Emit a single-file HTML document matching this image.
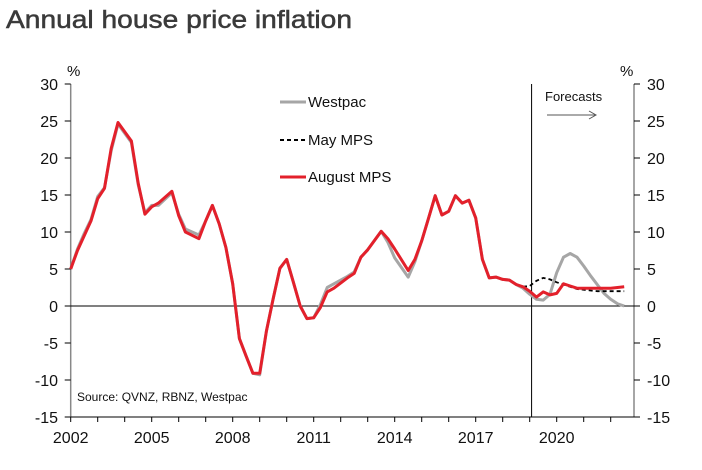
<!DOCTYPE html>
<html><head><meta charset="utf-8"><style>
body{margin:0;background:#fff;width:702px;height:465px;overflow:hidden;font-family:"Liberation Sans",Arial,sans-serif}
</style></head><body>
<svg width="702" height="465" xmlns="http://www.w3.org/2000/svg">
<text x="6" y="28" font-size="25" fill="#3a3a3a" stroke="#3a3a3a" stroke-width="0.5" textLength="346" lengthAdjust="spacingAndGlyphs">Annual house price inflation</text>
<g id="axes"></g>
<g id="series"></g>
<g font-size="15" fill="#111">
<line x1="280" y1="102" x2="306" y2="102" stroke="#a6a6a6" stroke-width="3"/>
<text x="308" y="107">Westpac</text>
<line x1="280" y1="140" x2="306" y2="140" stroke="#000" stroke-width="2" stroke-dasharray="4,3"/>
<text x="308" y="145">May MPS</text>
<line x1="280" y1="177" x2="306" y2="177" stroke="#e3202b" stroke-width="3"/>
<text x="308" y="182">August MPS</text>
</g>
<text x="545" y="101" font-size="13" fill="#111">Forecasts</text>
<line x1="547" y1="115" x2="596" y2="115" stroke="#555" stroke-width="1"/>
<polyline points="589,111 596,115 589,119" fill="none" stroke="#555" stroke-width="1"/>
<text x="77" y="401" font-size="12" fill="#111">Source: QVNZ, RBNZ, Westpac</text>
</svg>
<script>
const yTicks=[30,25,20,15,10,5,0,-5,-10,-15];
const xTickLabels=[2002,2005,2008,2011,2014,2017,2020];
const histDates=[2002,2002.25,2002.5,2002.75,2003,2003.25,2003.5,2003.75,2004.25,2004.5,2004.75,2005,2005.25,2005.75,2006,2006.25,2006.75,2007,2007.25,2007.5,2007.75,2008,2008.25,2008.5,2008.75,2009,2009.25,2009.5,2009.75,2010,2010.25,2010.5,2010.75,2011,2011.25,2011.5,2011.75,2012.25,2012.5,2012.75,2013,2013.5,2013.75,2014,2014.5,2014.75,2015,2015.25,2015.5,2015.75,2016,2016.25,2016.5,2016.75,2017,2017.25,2017.5,2017.75,2018,2018.25,2018.5,2018.75];
const histValues=[5.0,7.5,9.5,11.5,14.5,15.9,21.3,24.8,22.3,16.6,12.4,13.4,13.9,15.5,12.2,10.0,9.1,11.5,13.6,11.1,7.9,3.0,-4.4,-6.8,-9.1,-9.1,-3.4,1.0,5.1,6.3,3.2,0.0,-1.7,-1.6,-0.2,1.9,2.4,3.8,4.4,6.6,7.6,10.1,9.1,7.7,4.8,6.3,8.8,11.8,14.9,12.3,12.8,14.9,13.9,14.3,11.9,6.3,3.8,3.9,3.6,3.5,2.9,2.6];
const westpacHistValues=[5.0,7.7,9.8,11.7,14.8,16.0,21.0,24.6,22.1,16.4,12.6,13.6,13.6,15.3,12.4,10.4,9.6,11.5,13.6,11.1,7.9,3.0,-4.4,-6.8,-9.1,-9.3,-3.4,1.0,5.1,6.3,3.2,0.0,-1.7,-1.6,0.2,2.5,3.0,4.0,4.6,6.6,7.6,10.1,8.6,6.5,3.9,6.0,8.8,11.8,14.9,12.3,12.8,14.9,13.9,14.3,11.9,6.3,3.8,3.9,3.6,3.5,2.9,2.4];
const fcDates=[2018.75,2019,2019.25,2019.5,2019.75,2020,2020.25,2020.5,2020.75,2021,2021.25,2021.5,2021.75,2022,2022.25,2022.5];
const augustFc=[2.6,2.0,1.2,1.9,1.5,1.7,3.0,2.7,2.4,2.4,2.4,2.4,2.4,2.4,2.5,2.6];
const westpacFc=[2.4,1.6,0.9,0.8,1.6,4.5,6.6,7.1,6.6,5.4,4.1,2.9,1.7,0.9,0.3,0.0];
const mayFc=[2.6,2.7,3.4,3.8,3.6,3.2,2.9,2.6,2.3,2.2,2.1,2.0,2.0,2.0,2.0,2.0];
const X0=70.7,PX=27,Y0=306,PY=7.4,RIGHT=634;
const xs=d=>X0+(d-2002)*PX, ys=v=>Y0-v*PY;
const NS="http://www.w3.org/2000/svg";
function mk(tag,attrs,parent,txt){const e=document.createElementNS(NS,tag);for(const k in attrs)e.setAttribute(k,attrs[k]);if(txt!==undefined)e.textContent=txt;parent.appendChild(e);return e;}
const ax=document.getElementById('axes'), sr=document.getElementById('series');
let e;
e=mk('line',{x1:X0,y1:ys(30),x2:X0,y2:ys(-15),stroke:'#888','stroke-width':1.5},ax);


e=mk('line',{x1:RIGHT,y1:ys(30),x2:RIGHT,y2:ys(-15),stroke:'#888','stroke-width':1.5},ax);


e=mk('line',{x1:X0,y1:ys(-15),x2:RIGHT,y2:ys(-15),stroke:'#000','stroke-width':1},ax);


e=mk('line',{x1:X0,y1:ys(0),x2:RIGHT,y2:ys(0),stroke:'#000','stroke-width':1},ax);


e=mk('line',{x1:xs(2019.07),y1:ys(30),x2:xs(2019.07),y2:ys(-15),stroke:'#000','stroke-width':1},ax);


yTicks.forEach(v=>{
 mk('line',{x1:X0-6,y1:ys(v),x2:X0,y2:ys(v),stroke:'#000'},ax);
 mk('line',{x1:RIGHT,y1:ys(v),x2:RIGHT+6,y2:ys(v),stroke:'#000'},ax);
 e=mk('text',{x:58,y:ys(v)+6,'text-anchor':'end','font-size':16,fill:'#111'},ax,v);
 
 
 e=mk('text',{x:647,y:ys(v)+6,'font-size':16,fill:'#111'},ax,v);
 
 
});
for(let yr=2002;yr<=2022;yr++){mk('line',{x1:xs(yr),y1:ys(-15),x2:xs(yr),y2:ys(-15)+5,stroke:'#000'},ax);}
xTickLabels.forEach(yr=>{
 e=mk('text',{x:xs(yr),y:443,'text-anchor':'middle','font-size':16,fill:'#111'},ax,yr);
 
 
});
e=mk('text',{x:67,y:76,'font-size':15,fill:'#111'},ax,'%');


e=mk('text',{x:620,y:76,'font-size':15,fill:'#111'},ax,'%');


const pts=(d,v)=>d.map((t,i)=>xs(t).toFixed(1)+','+ys(v[i]).toFixed(1)).join(' ');
e=mk('polyline',{points:pts(histDates.concat(fcDates.slice(1)),westpacHistValues.concat(westpacFc.slice(1))),fill:'none',stroke:'#a6a6a6','stroke-width':3,'stroke-linejoin':'round'},sr);


e=mk('polyline',{points:pts(fcDates,mayFc),fill:'none',stroke:'#000','stroke-width':1.8,'stroke-dasharray':'4,3'},sr);


e=mk('polyline',{points:pts(histDates.concat(fcDates.slice(1)),histValues.concat(augustFc.slice(1))),fill:'none',stroke:'#e3202b','stroke-width':3,'stroke-linejoin':'round'},sr);


</script>
</body></html>
